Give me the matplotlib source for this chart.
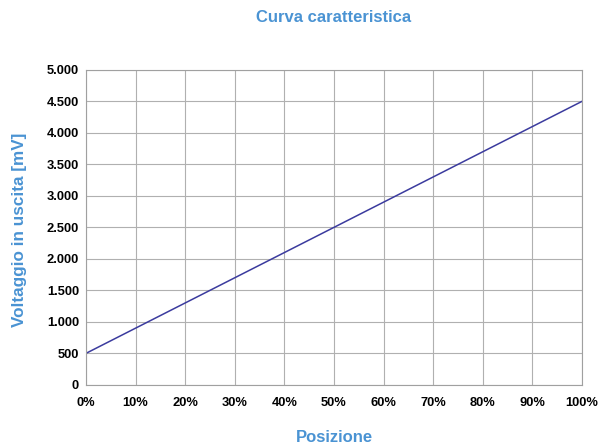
import matplotlib
matplotlib.use("Agg")
import matplotlib.pyplot as plt
from matplotlib.ticker import FuncFormatter

posizione = [0, 100]           # percent
voltaggio = [500, 4500]        # mV
x_ticks = list(range(0, 101, 10))
y_ticks = list(range(0, 5001, 500))

plt.rcParams['font.family'] = ['Liberation Sans', 'DejaVu Sans']

fig = plt.figure(figsize=(6.1, 4.48), dpi=100)
ax = fig.add_axes([0.141, 0.141, 0.813, 0.703])

ax.plot(posizione, voltaggio, color='#3b3b9e', lw=1.1)
ax.set_xlim(0, 100)
ax.set_ylim(0, 5000)
ax.set_xticks(x_ticks)
ax.set_yticks(y_ticks)
ax.xaxis.set_major_formatter(FuncFormatter(lambda v, p: f"{int(v)}%"))
ax.yaxis.set_major_formatter(FuncFormatter(lambda v, p: f"{int(v):,}".replace(",", ".")))
ax.grid(True, color='#b0b0b0', lw=0.8)
ax.set_axisbelow(True)
for s in ax.spines.values():
    s.set_color('#a0a0a0')
    s.set_linewidth(0.8)
ax.tick_params(length=0, labelsize=9.3, pad=5)
ax.tick_params(axis='x', pad=9)
for lab in ax.get_xticklabels() + ax.get_yticklabels():
    lab.set_fontweight('bold')

blue = '#4a93d3'
cx = 0.141 + 0.813 / 2
fig.text(cx, 1 - 18 / 448, 'Curva caratteristica', ha='center', va='center', color=blue,
         fontsize=12, fontweight='bold')
fig.text(cx, 1 - 437 / 448, 'Posizione', ha='center', va='center', color=blue,
         fontsize=12, fontweight='bold')
fig.text(20 / 610, 1 - 230 / 448, 'Voltaggio in uscita [mV]', ha='center', va='center',
         rotation=90, color=blue, fontsize=12.3, fontweight='bold')

fig.savefig('out.png', dpi=100)
